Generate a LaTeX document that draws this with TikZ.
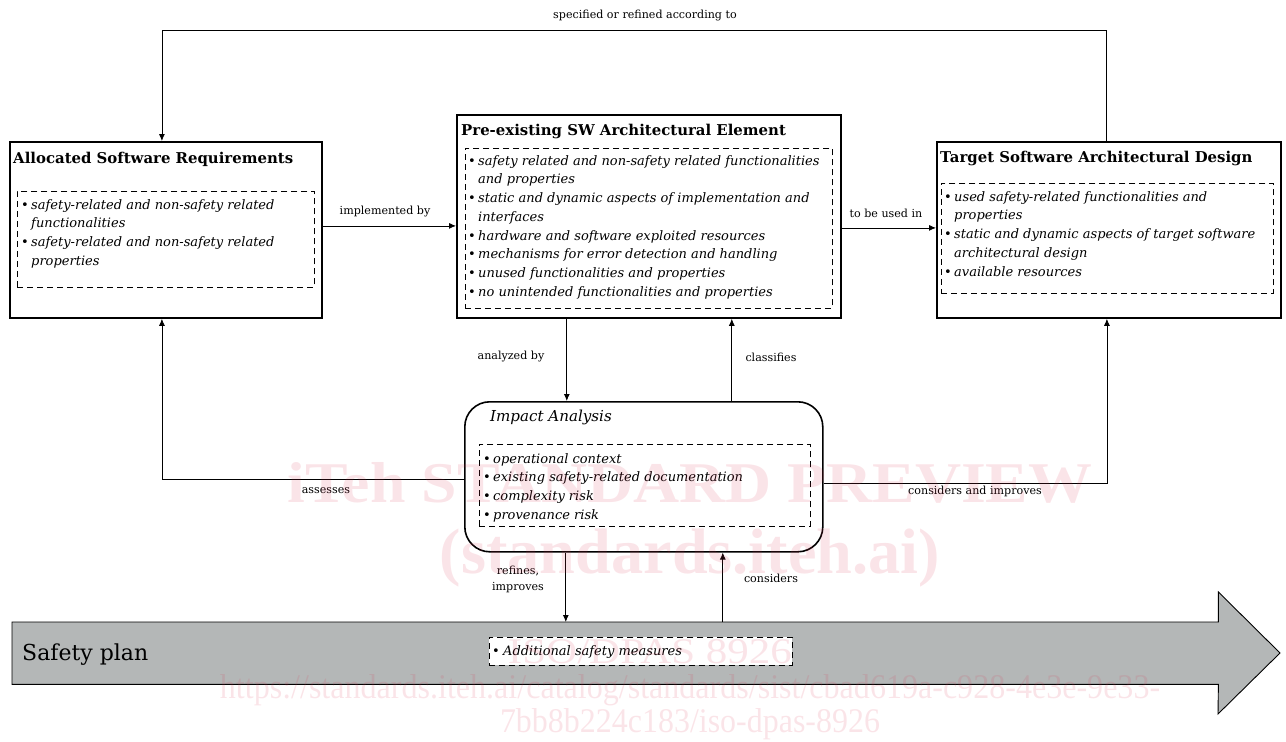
\documentclass[tikz,border=0pt]{standalone}
\usepackage{fontspec}
\usepackage{graphicx}
\setmainfont{DejaVu Serif}
\newfontfamily\wmfont{Liberation Serif}
\usetikzlibrary{arrows.meta}
\definecolor{plangray}{RGB}{180,183,183}
\definecolor{wm}{RGB}{220,50,80}
\newcommand{\bl}{\makebox[10pt][l]{\upshape\textbullet}}
\newcommand{\ind}{\hspace*{10pt}}
\newcommand{\fst}{\rule{0pt}{10pt}}
\begin{document}
\begin{tikzpicture}[x=1pt,y=-1pt,
  mainbox/.style={draw,line width=1.8pt,anchor=north west,inner sep=0pt},
  dbox/.style={draw,line width=0.9pt,dash pattern=on 6pt off 4pt,anchor=north west,inner sep=0pt},
  title/.style={anchor=base west,font=\bfseries\fontsize{14.9}{16}\selectfont,inner sep=0pt},
  items/.style={anchor=north west,align=left,inner sep=0pt,font=\itshape\fontsize{13}{18.7}\selectfont},
  lbl/.style={font=\fontsize{11.1}{16}\selectfont,inner sep=0pt,align=center},
  conn/.style={line width=0.8pt,-{Latex[length=7pt,width=6pt]}},
  wmtext/.style={text=wm,text opacity=0.13,inner sep=0pt,font=\wmfont}
]
\useasboundingbox (0,0) rectangle (1286,742);

% Allocated Software Requirements
\node[mainbox,minimum width=312pt,minimum height=176pt] (A) at (9,141) {};
\node[title] (At) at (13,163) {Allocated Software Requirements};
\node[dbox,minimum width=297pt,minimum height=96pt] (Ad) at (17,191) {};
\node[items] (Ai) at (21,199) {\fst\bl safety-related and non-safety related\\
\ind functionalities\\
\bl safety-related and non-safety related\\
\ind properties};

% Pre-existing SW Architectural Element
\node[mainbox,minimum width=384pt,minimum height=203pt] (B) at (456,114) {};
\node[title] (Bt) at (461,135) {Pre-existing SW Architectural Element};
\node[dbox,minimum width=367pt,minimum height=160pt] (Bd) at (465,148) {};
\node[items] (Bi) at (468,155) {\fst\bl safety related and non-safety related functionalities\\
\ind and properties\\
\bl static and dynamic aspects of implementation and\\
\ind interfaces\\
\bl hardware and software exploited resources\\
\bl mechanisms for error detection and handling\\
\bl unused functionalities and properties\\
\bl no unintended functionalities and properties};

% Target Software Architectural Design
\node[mainbox,minimum width=344pt,minimum height=176pt] (C) at (936,141) {};
\node[title] (Ct) at (940,162) {Target Software Architectural Design};
\node[dbox,minimum width=332pt,minimum height=110pt] (Cd) at (941,183) {};
\node[items] (Ci) at (944,191) {\fst\bl used safety-related functionalities and\\
\ind properties\\
\bl static and dynamic aspects of target software\\
\ind architectural design\\
\bl available resources};

% Impact Analysis
\node[draw,line width=1.6pt,rounded corners=25pt,anchor=north west,inner sep=0pt,minimum width=358pt,minimum height=150pt] (I) at (464,401) {};
\node[anchor=base west,inner sep=0pt,font=\itshape\fontsize{15.1}{16}\selectfont] (It) at (490,421) {Impact Analysis};
\node[dbox,minimum width=331pt,minimum height=82pt] (Id) at (479,444) {};
\node[items] (Ii) at (483,453) {\fst\bl operational context\\
\bl existing safety-related documentation\\
\bl complexity risk\\
\bl provenance risk};

% Safety plan arrow
\node[anchor=north west,inner sep=0pt,minimum width=1206pt,minimum height=62pt] (SP) at (12,622) {};
\draw[line width=0.9pt,fill=plangray] (SP.north west) -- (SP.north east) -- ++(0,-30) -- (1280,653) -- (1218,714) -- (SP.south east) -- (SP.south west) -- cycle;
\node[anchor=west,inner sep=0pt,font=\fontsize{22}{24}\selectfont] (SPt) at (22,655) {Safety plan};
\node[dbox,fill=white,minimum width=303pt,minimum height=28pt] (M) at (489,637) {};
\node[anchor=base west,inner sep=0pt,font=\itshape\fontsize{13}{14}\selectfont] (Mt) at (492,655) {\makebox[11pt][l]{\upshape\textbullet}Additional safety measures};

% connectors
\coordinate (topY) at (0,30);
\draw[conn] ([xshift=-3pt]C.north) -- ([xshift=-3pt]C.north |- topY) -| ([xshift=-4pt]A.north);
\node[lbl] (l1) at (645,16) {specified or refined according to};

\draw[conn] ([yshift=4pt]A.east) -- ([yshift=4pt]A.east -| B.west);
\node[lbl] (l2) at (385,212) {implemented by};

\draw[conn] ([yshift=2pt]C.west -| B.east) -- ([yshift=2pt]C.west);
\node[lbl] (l3) at (886,213) {to be used in};

\draw[conn] ([xshift=-77pt]I.north |- B.south) -- ([xshift=-77pt]I.north);
\node[lbl] (l4) at (511,357) {analyzed by};

\draw[conn] ([xshift=88pt]I.north) -- ([xshift=88pt]I.north |- B.south);
\node[lbl] (l5) at (771,357) {classifies};

\draw[conn] ([yshift=-3pt]I.west) -| ([xshift=-4pt]A.south);
\node[lbl] (l6) at (326,491) {assesses};

\draw[conn] ([yshift=-7pt]I.east) -| ([xshift=-2pt]C.south);
\node[lbl] (l7) at (975,491) {considers and improves};

\draw[conn] ([xshift=-78pt]I.south) -- ([xshift=-78pt]I.south |- SP.north);
\node[lbl] (l8) at (518,579) {refines,\\improves};

\draw[conn] ([xshift=79pt]I.south |- SP.north) -- ([xshift=79pt]I.south);
\node[lbl] (l9) at (771,578) {considers};

% watermark
\node[wmtext] (w1) at (690,483) {\resizebox{805pt}{40pt}{\bfseries iTeh STANDARD PREVIEW}};
\node[wmtext] (w2) at (690,558) {\resizebox{500pt}{!}{\bfseries (standards.iteh.ai)}};
\node[wmtext] (w3) at (650,652) {\resizebox{284pt}{24pt}{ISO/DPAS 8926}};
\node[wmtext] (w4) at (690,690) {\resizebox{940pt}{24pt}{https://standards.iteh.ai/catalog/standards/sist/cbad619a-c928-4e3e-9e33-}};
\node[wmtext] (w5) at (690,724) {\resizebox{380pt}{24pt}{7bb8b224c183/iso-dpas-8926}};
\end{tikzpicture}
\end{document}
